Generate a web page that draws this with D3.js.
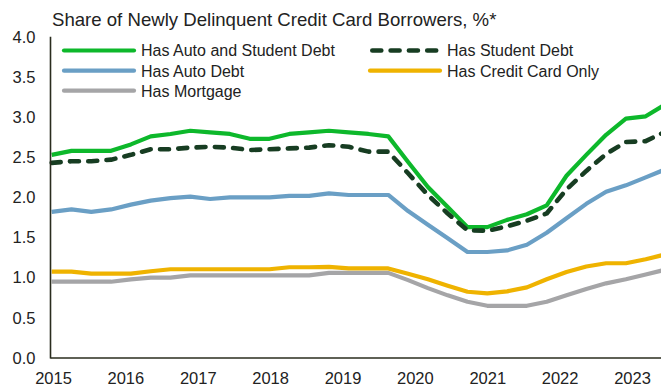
<!DOCTYPE html>
<html>
<head>
<meta charset="utf-8">
<script src="https://cdn.jsdelivr.net/npm/d3@7/dist/d3.min.js"></script>
<style>
  html, body { margin: 0; padding: 0; background: #fff; }
  svg { display: block; font-family: "Liberation Sans", Arial, sans-serif; }
</style>
</head>
<body>
<svg id="chart" width="661" height="386"></svg>
<script>
// Quarterly observations, 32 periods
const periods = d3.range(32);

const autoAndStudent = [2.53, 2.58, 2.58, 2.58, 2.66, 2.76, 2.79, 2.83, 2.81, 2.79, 2.73, 2.73, 2.79, 2.81, 2.83, 2.81,
                        2.79, 2.76, 2.44, 2.13, 1.88, 1.63, 1.63, 1.72, 1.79, 1.90, 2.27, 2.53, 2.78, 2.98, 3.01, 3.16];
const student        = [2.43, 2.45, 2.45, 2.47, 2.53, 2.60, 2.60, 2.62, 2.63, 2.62, 2.59, 2.60, 2.61, 2.62, 2.65, 2.63,
                        2.57, 2.57, 2.30, 2.03, 1.80, 1.59, 1.585, 1.64, 1.71, 1.80, 2.10, 2.33, 2.54, 2.69, 2.70, 2.82];
const auto           = [1.82, 1.85, 1.82, 1.85, 1.91, 1.96, 1.99, 2.01, 1.98, 2.00, 2.00, 2.00, 2.02, 2.02, 2.05, 2.03,
                        2.03, 2.03, 1.83, 1.66, 1.49, 1.32, 1.32, 1.34, 1.41, 1.56, 1.74, 1.92, 2.07, 2.15, 2.25, 2.35];
const cardOnly       = [1.075, 1.075, 1.05, 1.05, 1.05, 1.08, 1.105, 1.105, 1.105, 1.105, 1.105, 1.105, 1.13, 1.13, 1.135, 1.115,
                        1.115, 1.115, 1.05, 0.98, 0.90, 0.825, 0.805, 0.83, 0.88, 0.98, 1.07, 1.14, 1.18, 1.18, 1.23, 1.29];
const mortgage       = [0.95, 0.95, 0.95, 0.95, 0.98, 1.00, 1.00, 1.03, 1.03, 1.03, 1.03, 1.03, 1.03, 1.03, 1.06, 1.06,
                        1.06, 1.06, 0.97, 0.87, 0.78, 0.70, 0.65, 0.65, 0.65, 0.70, 0.78, 0.86, 0.93, 0.98, 1.04, 1.10];

const years = [2015, 2016, 2017, 2018, 2019, 2020, 2021, 2022, 2023];
const yTicks = [0, 0.5, 1, 1.5, 2, 2.5, 3, 3.5, 4];

const series = [
  { name: "Has Mortgage",              values: mortgage,       color: "#a5a5a7", dash: null },
  { name: "Has Credit Card Only",      values: cardOnly,       color: "#efb300", dash: null },
  { name: "Has Auto Debt",             values: auto,           color: "#6a9fc5", dash: null },
  { name: "Has Auto and Student Debt", values: autoAndStudent, color: "#0db82b", dash: null },
  { name: "Has Student Debt",          values: student,        color: "#173d22", dash: "9 9.3" }
];

const svg = d3.select("#chart");
const plotLeft = 50.5, plotBottom = 358, plotTop = 36.8;

const x = d3.scaleLinear().domain([0, periods.length - 1]).range([51.7, 665.5]);
const xYear = d3.scaleLinear().domain([2015, 2023]).range([53, 632]);
const y = d3.scaleLinear().domain([0, 4]).range([plotBottom, plotTop]);

// title
svg.append("text")
  .attr("x", 52).attr("y", 26)
  .attr("fill", "#222")
  .style("font-size", "18.6px")
  .text("Share of Newly Delinquent Credit Card Borrowers, %*");

// y axis labels
const yAxis = svg.append("g")
  .attr("transform", `translate(${plotLeft},0)`)
  .call(d3.axisLeft(y).tickValues(yTicks).tickFormat(d3.format(".1f")).tickSize(0).tickPadding(15));
yAxis.select(".domain").remove();
yAxis.selectAll("text").attr("fill", "#222").style("font-size", "16.5px").style("font-family", "Liberation Sans, Arial, sans-serif");

// x axis labels
const xAxis = svg.append("g")
  .attr("transform", `translate(0,${plotBottom})`)
  .call(d3.axisBottom(xYear).tickValues(years).tickFormat(d3.format("d")).tickSize(0).tickPadding(14.5));
xAxis.select(".domain").remove();
xAxis.selectAll("text").attr("fill", "#222").style("font-size", "16.5px").style("font-family", "Liberation Sans, Arial, sans-serif");

// series lines
const line = d3.line().x((d, i) => x(periods[i])).y(d => y(d));
svg.append("g")
  .selectAll("path")
  .data(series)
  .join("path")
  .attr("d", s => line(s.values))
  .attr("fill", "none")
  .attr("stroke", s => s.color)
  .attr("stroke-width", s => s.dash ? 4.6 : 4.2)
  .attr("stroke-linejoin", "round")
  .attr("stroke-linecap", s => s.dash ? "round" : "butt")
  .attr("stroke-dasharray", s => s.dash);

// axis lines
svg.append("line")
  .attr("x1", plotLeft).attr("x2", plotLeft).attr("y1", plotTop).attr("y2", plotBottom + 0.5)
  .attr("stroke", "#2a2c1e").attr("stroke-width", 1.6);
svg.append("line")
  .attr("x1", plotLeft).attr("x2", 661).attr("y1", plotBottom).attr("y2", plotBottom)
  .attr("stroke", "#2a2c1e").attr("stroke-width", 1.6);

// legend
const legendItems = [
  { key: "Has Auto and Student Debt", lx: 64,  ly: 50.5 },
  { key: "Has Student Debt",          lx: 370, ly: 50.5 },
  { key: "Has Auto Debt",             lx: 64,  ly: 70.7 },
  { key: "Has Credit Card Only",      lx: 370, ly: 70.7 },
  { key: "Has Mortgage",              lx: 64,  ly: 90.7 }
];
const styleOf = key => series.find(s => s.name === key);
const legend = svg.append("g")
  .selectAll("g")
  .data(legendItems)
  .join("g")
  .attr("transform", d => `translate(${d.lx},${d.ly})`);
legend.append("line")
  .attr("x1", d => styleOf(d.key).dash ? 2.3 : 0)
  .attr("x2", d => styleOf(d.key).dash ? 68 : 70)
  .attr("y1", 0).attr("y2", 0)
  .attr("stroke", d => styleOf(d.key).color)
  .attr("stroke-width", d => styleOf(d.key).dash ? 4.6 : 4.2)
  .attr("stroke-linecap", "round")
  .attr("stroke-dasharray", d => styleOf(d.key).dash);
legend.append("text")
  .attr("x", 77).attr("y", 5.8)
  .attr("fill", "#222")
  .style("font-size", "16px")
  .text(d => d.key);
</script>
</body>
</html>
